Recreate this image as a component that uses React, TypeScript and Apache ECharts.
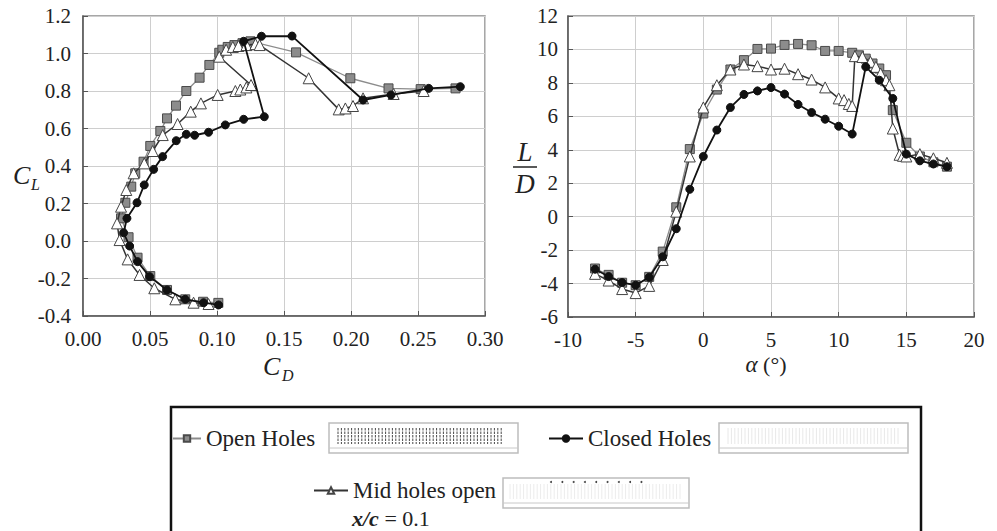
import React, { useEffect, useRef } from "react";
import * as echarts from "echarts";

// ---------- Data ----------
// Open Holes
const alphaOpen = [-8, -7, -6, -5, -4, -3, -2, -1, 0, 1, 2, 3, 4, 5, 6, 7, 8, 9, 10, 11, 11.5, 12, 12.5, 13, 13.5, 14, 15, 16, 17, 18];
const ldOpen = [-3.1, -3.48, -3.95, -4.1, -3.6, -2.09, 0.56, 4.04, 6.17, 7.6, 8.8, 9.36, 10.03, 10.05, 10.27, 10.33, 10.25, 9.91, 9.91, 9.8, 9.65, 9.45, 9.16, 8.86, 8.46, 6.37, 4.42, 3.6, 3.25, 2.99];
const cdOpen = [0.101, 0.0896, 0.0763, 0.0627, 0.0502, 0.0407, 0.034, 0.0284, 0.0316, 0.036, 0.039, 0.0452, 0.0502, 0.0577, 0.0627, 0.0694, 0.0771, 0.087, 0.0943, 0.1017, 0.104, 0.108, 0.113, 0.119, 0.125, 0.159, 0.1995, 0.228, 0.252, 0.278];
const clOpen = [-0.33, -0.324, -0.311, -0.261, -0.187, -0.089, 0.02, 0.121, 0.204, 0.29, 0.361, 0.423, 0.507, 0.587, 0.654, 0.722, 0.8, 0.871, 0.939, 1.004, 1.02, 1.035, 1.045, 1.055, 1.065, 1.006, 0.868, 0.814, 0.81, 0.814];

// Closed Holes
const alphaClosed = [-8, -7, -6, -5, -4, -3, -2, -1, 0, 1, 2, 3, 4, 5, 6, 7, 8, 9, 10, 11, 12, 13, 14, 15, 16, 17, 18];
const ldClosed = [-3.14, -3.58, -3.94, -4.1, -3.62, -2.4, -0.72, 1.64, 3.6, 5.18, 6.53, 7.31, 7.52, 7.72, 7.33, 6.71, 6.23, 5.83, 5.41, 4.94, 8.96, 8.16, 7.07, 3.74, 3.34, 3.15, 2.99];
const cdClosed = [0.1012, 0.09, 0.0763, 0.0627, 0.0497, 0.0407, 0.0348, 0.0303, 0.0328, 0.0403, 0.0457, 0.0527, 0.0594, 0.0696, 0.0771, 0.0833, 0.0937, 0.1062, 0.1199, 0.1353, 0.1199, 0.1332, 0.156, 0.209, 0.2299, 0.258, 0.2816];
const clClosed = [-0.341, -0.329, -0.311, -0.261, -0.19, -0.11, -0.027, 0.044, 0.121, 0.204, 0.299, 0.382, 0.45, 0.535, 0.569, 0.564, 0.58, 0.619, 0.649, 0.663, 1.065, 1.092, 1.093, 0.752, 0.779, 0.814, 0.823];

// Mid holes open (x/c = 0.1)
const alphaMid = [-8, -7, -6, -5, -4, -3, -2, -1, 0, 1, 2, 3, 4, 5, 6, 7, 8, 9, 10, 10.4, 10.75, 11, 11.2, 11.75, 12.35, 12.75, 13.1, 13.5, 13.75, 14, 14.5, 14.75, 15, 16, 17, 18];
const ldMid = [-3.42, -3.82, -4.33, -4.57, -4.14, -2.59, 0.3, 3.6, 6.53, 7.86, 8.8, 9.1, 9.0, 8.8, 8.85, 8.52, 8.2, 7.73, 7.07, 6.97, 6.74, 6.62, 9.6, 9.55, 9.26, 8.96, 8.56, 8.16, 7.86, 5.27, 3.7, 3.64, 3.6, 3.74, 3.49, 3.22];
const cdMid = [0.0937, 0.0825, 0.0689, 0.0532, 0.0422, 0.0333, 0.0273, 0.0254, 0.0284, 0.0323, 0.0378, 0.0457, 0.052, 0.0595, 0.0706, 0.0804, 0.088, 0.1005, 0.1137, 0.1174, 0.1219, 0.1254, 0.1017, 0.1068, 0.1118, 0.116, 0.122, 0.1287, 0.1318, 0.1684, 0.1908, 0.1958, 0.2015, 0.209, 0.2318, 0.2542];
const clMid = [-0.336, -0.329, -0.311, -0.252, -0.181, -0.098, 0.005, 0.094, 0.183, 0.272, 0.361, 0.414, 0.48, 0.565, 0.624, 0.69, 0.734, 0.779, 0.8, 0.808, 0.819, 0.832, 0.983, 1.02, 1.035, 1.04, 1.045, 1.05, 1.045, 0.868, 0.702, 0.707, 0.72, 0.761, 0.784, 0.8];

const seriesNames = ["Open Holes", "Closed Holes", "Mid holes open"];

// ---------- Styling ----------
const SERIF = "'Liberation Serif', 'Times New Roman', serif";
const TXT = "#222";

const styles: Record<string, any> = {
  "Open Holes": {
    symbol: "rect",
    symbolSize: 9,
    itemStyle: { color: "#8c8c8c", borderColor: "#4a4a4a", borderWidth: 1 },
    lineStyle: { color: "#8c8c8c", width: 1.3 },
    z: 2,
  },
  "Mid holes open": {
    symbol: "triangle",
    symbolSize: 11,
    itemStyle: { color: "#ffffff", borderColor: "#444", borderWidth: 1 },
    lineStyle: { color: "#333", width: 1.5 },
    z: 3,
  },
  "Closed Holes": {
    symbol: "circle",
    symbolSize: 8,
    itemStyle: { color: "#111", borderColor: "#111", borderWidth: 1 },
    lineStyle: { color: "#111", width: 1.8 },
    z: 4,
  },
};

function mk(name: string, xs: number[], ys: number[], gi: number) {
  const s = styles[name];
  return {
    type: "line",
    name,
    xAxisIndex: gi,
    yAxisIndex: gi,
    data: xs.map((x, i) => [x, ys[i]]),
    symbol: s.symbol,
    symbolSize: s.symbolSize,
    showSymbol: true,
    itemStyle: s.itemStyle,
    lineStyle: s.lineStyle,
    emphasis: { disabled: true },
    z: s.z,
    clip: false,
  };
}

const fmt = (d: number) => (v: number) => (Math.abs(v) < 1e-9 ? 0 : v).toFixed(d);

function axisCommon() {
  return {
    axisLine: { show: true, onZero: false, lineStyle: { color: "#555", width: 1.5 } },
    axisTick: { show: true, inside: true, length: 5, lineStyle: { color: "#555", width: 1 } },
    splitLine: { show: true, lineStyle: { color: "#cecece", width: 1 } },
    axisLabel: { fontSize: 21, fontFamily: SERIF, color: TXT, margin: 12 },
  };
}

// ---------- decorative boxes in the legend ----------
function decorations() {
  const els: any[] = [];
  // Legend frame
  els.push({
    type: "rect",
    shape: { x: 171, y: 407, width: 750, height: 150 },
    style: { fill: "none", stroke: "#111", lineWidth: 2.5 },
    silent: true,
  });
  // Box A (open holes)
  els.push({ type: "rect", shape: { x: 329, y: 423, width: 189, height: 30 }, style: { fill: "#fff", stroke: "#bdbdbd", lineWidth: 1.5 } });
  els.push({ type: "line", shape: { x1: 329, y1: 448, x2: 518, y2: 448 }, style: { stroke: "#c8c8c8", lineWidth: 1 } });
  for (let x = 338; x <= 503; x += 3.4) {
    els.push({ type: "line", shape: { x1: x, y1: 428, x2: x, y2: 444 }, style: { stroke: "#333", lineWidth: 0.9, lineDash: [2.5, 1] } });
  }
  // Box B (closed holes)
  els.push({ type: "rect", shape: { x: 719, y: 423, width: 189, height: 30 }, style: { fill: "#fff", stroke: "#bdbdbd", lineWidth: 1.5 } });
  els.push({ type: "line", shape: { x1: 719, y1: 448, x2: 908, y2: 448 }, style: { stroke: "#c8c8c8", lineWidth: 1 } });
  for (let x = 728; x <= 898; x += 3.4) {
    els.push({ type: "line", shape: { x1: x, y1: 428, x2: x, y2: 444 }, style: { stroke: "#e8e8e8", lineWidth: 1 } });
  }
  // Box C (mid holes)
  els.push({ type: "rect", shape: { x: 503, y: 478, width: 186, height: 30 }, style: { fill: "#fff", stroke: "#bdbdbd", lineWidth: 1.5 } });
  els.push({ type: "line", shape: { x1: 503, y1: 503, x2: 689, y2: 503 }, style: { stroke: "#c8c8c8", lineWidth: 1 } });
  for (let x = 510; x <= 682; x += 3.4) {
    els.push({ type: "line", shape: { x1: x, y1: 484, x2: x, y2: 499 }, style: { stroke: "#ececec", lineWidth: 1 } });
  }
  for (let k = 0; k < 9; k++) {
    els.push({ type: "circle", shape: { cx: 551 + k * 11.3, cy: 482, r: 1 }, style: { fill: "#444" } });
  }
  // x/c = 0.1
  els.push({
    type: "text",
    x: 352,
    y: 518,
    style: {
      text: "{a|x/c} = 0.1",
      fontSize: 22,
      fontFamily: SERIF,
      fill: TXT,
      verticalAlign: "middle",
      rich: { a: { fontStyle: "italic", fontWeight: "bold", fontSize: 22, fontFamily: SERIF, fill: TXT } },
    },
  });
  // Axis titles: C_L
  els.push({ type: "text", x: 13, y: 175, style: { text: "C", fontSize: 26, fontStyle: "italic", fontFamily: SERIF, fill: TXT, verticalAlign: "middle" } });
  els.push({ type: "text", x: 31, y: 184, style: { text: "L", fontSize: 16, fontStyle: "italic", fontFamily: SERIF, fill: TXT, verticalAlign: "middle" } });
  // C_D
  els.push({ type: "text", x: 263, y: 366, style: { text: "C", fontSize: 26, fontStyle: "italic", fontFamily: SERIF, fill: TXT, verticalAlign: "middle" } });
  els.push({ type: "text", x: 282, y: 375, style: { text: "D", fontSize: 16, fontStyle: "italic", fontFamily: SERIF, fill: TXT, verticalAlign: "middle" } });
  // L / D
  els.push({ type: "text", x: 525, y: 152, style: { text: "L", fontSize: 27, fontStyle: "italic", fontFamily: SERIF, fill: TXT, align: "center", verticalAlign: "middle" } });
  els.push({ type: "line", shape: { x1: 513, y1: 167, x2: 537, y2: 167 }, style: { stroke: TXT, lineWidth: 1.5 } });
  els.push({ type: "text", x: 525, y: 184, style: { text: "D", fontSize: 27, fontStyle: "italic", fontFamily: SERIF, fill: TXT, align: "center", verticalAlign: "middle" } });
  // alpha (deg)
  els.push({
    type: "text",
    x: 766,
    y: 364,
    style: {
      text: "{a|α} (°)",
      fontSize: 22,
      fontFamily: SERIF,
      fill: TXT,
      align: "center",
      verticalAlign: "middle",
      rich: { a: { fontStyle: "italic", fontSize: 23, fontFamily: SERIF, fill: TXT } },
    },
  });
  return els;
}

function legendAt(name: string, left: number, top: number, itemWidth: number) {
  return {
    data: [name],
    left,
    top,
    padding: 0,
    itemWidth,
    itemHeight: 8,
    selectedMode: false,
    textStyle: { fontSize: 23, fontFamily: SERIF, color: TXT },
  };
}

export default function App() {
  const ref = useRef<HTMLDivElement>(null);
  useEffect(() => {
    if (!ref.current) return;
    const chart = echarts.init(ref.current, null, { renderer: "svg" });
    const option: any = {
      animation: false,
      backgroundColor: "#ffffff",
      grid: [
        { left: 83, top: 16, width: 402, height: 300, show: true, borderColor: "#8a8a8a", borderWidth: 1.5, backgroundColor: "transparent" },
        { left: 568, top: 16, width: 406, height: 301, show: true, borderColor: "#8a8a8a", borderWidth: 1.5, backgroundColor: "transparent" },
      ],
      xAxis: [
        { type: "value", gridIndex: 0, min: 0, max: 0.3, interval: 0.05, ...axisCommon(), axisLabel: { ...axisCommon().axisLabel, formatter: fmt(2) } },
        { type: "value", gridIndex: 1, min: -10, max: 20, interval: 5, ...axisCommon(), axisLabel: { ...axisCommon().axisLabel, formatter: fmt(0) } },
      ],
      yAxis: [
        { type: "value", gridIndex: 0, min: -0.4, max: 1.2, interval: 0.2, ...axisCommon(), axisLabel: { ...axisCommon().axisLabel, formatter: fmt(1) } },
        { type: "value", gridIndex: 1, min: -6, max: 12, interval: 2, ...axisCommon(), axisLabel: { ...axisCommon().axisLabel, formatter: fmt(0), margin: 10 } },
      ],
      legend: [
        legendAt(seriesNames[0], 172, 427, 28),
        legendAt(seriesNames[1], 548, 427, 34),
        legendAt(seriesNames[2], 313, 479, 34),
      ],
      series: [
        mk("Open Holes", cdOpen, clOpen, 0),
        mk("Mid holes open", cdMid, clMid, 0),
        mk("Closed Holes", cdClosed, clClosed, 0),
        mk("Open Holes", alphaOpen, ldOpen, 1),
        mk("Mid holes open", alphaMid, ldMid, 1),
        mk("Closed Holes", alphaClosed, ldClosed, 1),
      ],
      graphic: { elements: decorations() },
    };
    chart.setOption(option);
    return () => chart.dispose();
  }, []);
  return <div ref={ref} style={{ position: "absolute", left: 0, top: 0, width: 997, height: 531 }} />;
}
